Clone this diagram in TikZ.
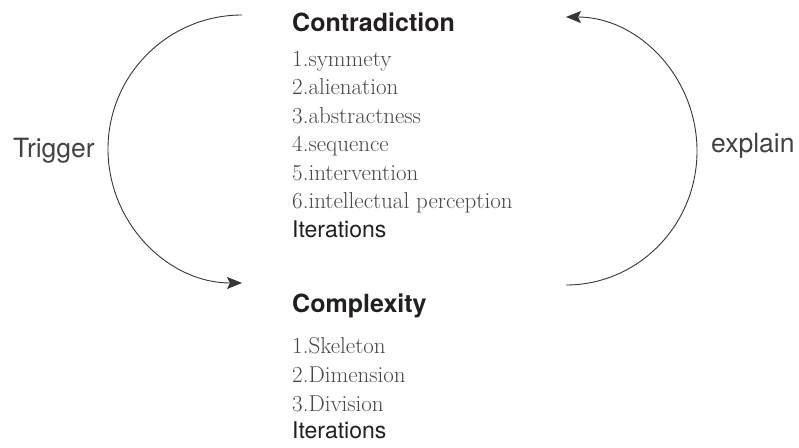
\documentclass[tikz,border=0pt]{standalone}
\usepackage{fontspec}
\newfontfamily\hv{TeX Gyre Heros}
\usetikzlibrary{arrows.meta}
\definecolor{ink}{HTML}{231F20}
\definecolor{listgray}{HTML}{484848}
\begin{document}
\begin{tikzpicture}[x=1pt,y=-1pt,
  title/.style={anchor=base west, inner sep=0pt, font=\hv\bfseries\fontsize{25}{30}\selectfont, text=ink},
  item/.style={anchor=base west, inner sep=0pt, font=\fontsize{23}{27}\selectfont, text=listgray},
  iter/.style={anchor=base west, inner sep=0pt, font=\hv\fontsize{23}{27}\selectfont, text=ink},
  lbl/.style={anchor=base west, inner sep=0pt, font=\hv\fontsize{26.5}{30}\selectfont, text=ink!85},
  arr/.style={-{Stealth[length=15pt,width=12pt,inset=3pt]}, line width=0.9pt, draw=ink!90}]
\useasboundingbox (0,0) rectangle (799,447);
\fill[white] (0,0) rectangle (799,447);
% Contradiction block
\node[title] (contra) at (292,31) {Contradiction};
\node[item] (c1) at (292,66) {1.symmety};
\node[item] (c2) at (292,94.5) {2.alienation};
\node[item] (c3) at (292,123) {3.abstractness};
\node[item] (c4) at (292,151.5) {4.sequence};
\node[item] (c5) at (292,180) {5.intervention};
\node[item] (c6) at (292,208.5) {6.intellectual perception};
\node[iter] (citer) at (292,237) {Iterations};
% Complexity block
\node[title] (compl) at (292,312) {Complexity};
\node[item] (k1) at (292,353) {1.Skeleton};
\node[item] (k2) at (292,382) {2.Dimension};
\node[item] (k3) at (292,411) {3.Division};
\node[iter] (kiter) at (292,438) {Iterations};
% labels
\node[lbl] (trig) at (13,157) {Trigger};
\node[lbl] (expl) at (711,152) {explain};
% arcs
\coordinate (lt) at (242,15);
\coordinate (lb) at (242,283);
\coordinate (rb) at (566,285);
\coordinate (rt) at (566,17);
\draw[arr] (lt) arc[start angle=270, end angle=90, radius=134];
\draw[arr] (rb) arc[start angle=90, end angle=-90, x radius=131, y radius=134];
\end{tikzpicture}
\end{document}
